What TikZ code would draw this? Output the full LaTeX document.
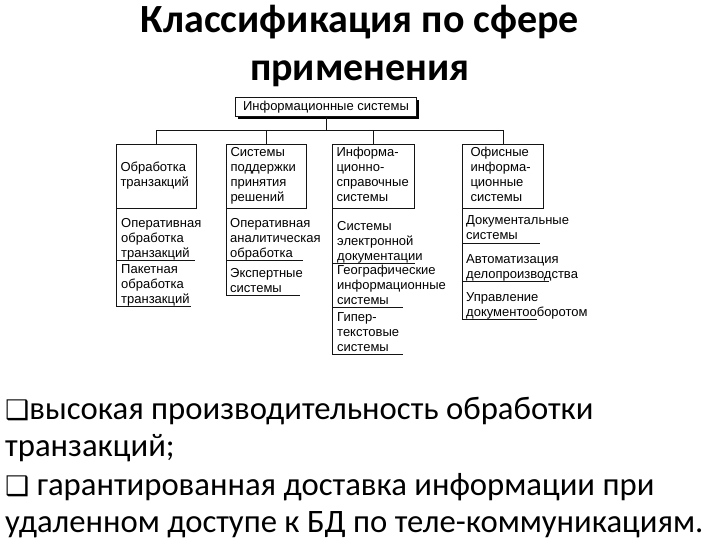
\documentclass[tikz,border=0pt]{standalone}
\usepackage{fontspec}
\setmainfont{Carlito}
\newfontfamily\schemefont{Liberation Sans}
\newfontfamily\symbolfont{DejaVu Sans}
\usetikzlibrary{
  positioning,
  shadows
}
\definecolor{labelcolor}{RGB}{0, 0, 0}
\definecolor{linecolor}{RGB}{20, 20, 20}
\newcommand{\boxmark}{{\symbolfont\fontsize{27}{27}\selectfont ❑}}
\tikzset{
titletext/.style={
  font=\fontsize{40}{48}\selectfont\bfseries,
  text width=600pt,
  align=flush center,
  anchor=base,
  inner sep=0pt
},
bullettext/.style={
  font=\fontsize{32.7}{37.6}\selectfont,
  text width=715pt,
  align=flush left,
  anchor=base west,
  inner sep=0pt
},
schemetext/.style={
  font=\schemefont\fontsize{13}{15}\selectfont,
  text=labelcolor
},
rootbox/.style={
  draw=linecolor,
  line width=1pt,
  fill=white,
  minimum width=181pt,
  minimum height=19pt,
  inner sep=0pt,
  schemetext,
  drop shadow={shadow xshift=2.5pt, shadow yshift=-2.5pt, fill=black, opacity=1}
},
groupbox/.style={
  draw=linecolor,
  line width=1pt,
  anchor=north west,
  minimum height=64pt,
  inner xsep=4pt,
  inner ysep=0pt,
  text width=72pt,
  align=flush left,
  schemetext,
  execute at begin node=\strut,
  execute at end node=\strut
},
subitem/.style={
  anchor=base west,
  inner sep=0pt,
  text width=120pt,
  align=flush left,
  schemetext,
  execute at end node={\rule[-3.5pt]{0pt}{3.5pt}}
},
link/.style={
  draw=linecolor,
  line width=1pt
}
}

\begin{document}
\begin{tikzpicture}[x=1pt, y=-1pt]
      \useasboundingbox (0,0) rectangle (720,540);
      % Title
      \node[titletext] (title) at (360,33) {Классификация по сфере\\применения};
      % Root and groups
      \node[rootbox] (is) at (326,107) {Информационные системы};
      \node[groupbox] (c1) at (116,144) {Обработка\\транзакций};
      \node[groupbox] (c2) at (226,144) {Системы\\поддержки\\принятия\\решений};
      \node[groupbox, text width=74pt] (c3) at (332,144) {Информа-\\ционно-\\справочные\\системы};
      \node[groupbox, inner xsep=8pt, text width=65pt] (c4) at (462,144) {Офисные\\информа-\\ционные\\системы};
      \coordinate (bus) at (326,131);
      \draw[link] (is.south) -- (bus);
      \foreach \c in {c1,c2,c3,c4}
        \draw[link] (bus) -| (\c.north);
      % Sub-items
      \node[subitem] (c1a) at (121,227) {Оперативная\\обработка\\транзакций};
      \node[subitem] (c1b) at (121,273) {Пакетная\\обработка\\транзакций};
      \node[subitem] (c2a) at (230,227) {Оперативная\\аналитическая\\обработка};
      \node[subitem] (c2b) at (230,277) {Экспертные\\системы};
      \node[subitem] (c3a) at (337,230) {Системы\\электронной\\документации};
      \node[subitem] (c3b) at (337,274) {Географические\\информационные\\системы};
      \node[subitem] (c3c) at (337,321) {Гипер-\\текстовые\\системы};
      \node[subitem] (c4a) at (466,225) {Документальные\\системы};
      \node[subitem] (c4b) at (466,263) {Автоматизация\\делопроизводства};
      \node[subitem] (c4c) at (466,301) {Управление\\документооборотом};
      % Brackets
      \draw[link] (c1.south west) -- (c1.south west |- c1b.south);
      \draw[link] (c1.south west |- c1a.south) -- ++(79,0);
      \draw[link] (c1.south west |- c1b.south) -- ++(75,0);
      \draw[link] (c2.south west) -- (c2.south west |- c2b.south);
      \draw[link] (c2.south west |- c2a.south) -- ++(77,0);
      \draw[link] (c2.south west |- c2b.south) -- ++(74,0);
      \draw[link] (c3.south west) -- (c3.south west |- c3c.south);
      \draw[link] (c3.south west |- c3a.south) -- ++(83,0);
      \draw[link] (c3.south west |- c3b.south) -- ++(71,0);
      \draw[link] (c3.south west |- c3c.south) -- ++(71,0);
      \draw[link] (c4.south west) -- (c4.south west |- c4c.south);
      \draw[link] (c4.south west |- c4a.south) -- ++(78,0);
      \draw[link] (c4.south west |- c4b.south) -- ++(87,0);
      \draw[link] (c4.south west |- c4c.south) -- ++(75,0);
      % Bullets
      \node[bullettext] (b1) at (5,419) {\boxmark высокая производительность обработки\\транзакций;};
      \node[bullettext] (b2) at (5,495) {\boxmark{} гарантированная доставка информации при\\удаленном доступе к БД по теле-коммуникациям.};
    \end{tikzpicture}
\end{document}
